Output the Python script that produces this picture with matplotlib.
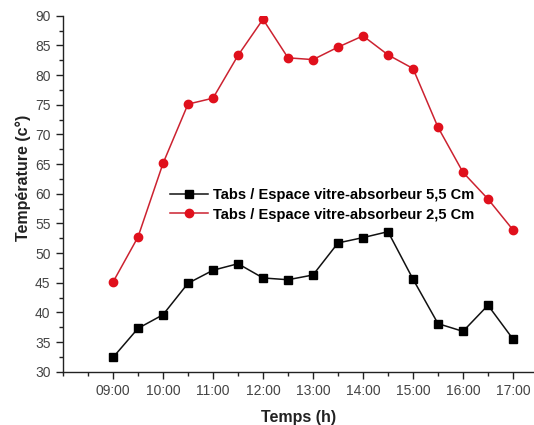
import matplotlib
matplotlib.use("Agg")
import matplotlib.pyplot as plt
from matplotlib.ticker import MultipleLocator

plt.rcParams['font.family'] = ['Liberation Sans', 'DejaVu Sans']

# time of day in hours, every 30 min from 09:00 to 17:00
hours = [9.0, 9.5, 10.0, 10.5, 11.0, 11.5, 12.0, 12.5, 13.0,
         13.5, 14.0, 14.5, 15.0, 15.5, 16.0, 16.5, 17.0]

t_55 = [32.4, 37.3, 39.6, 44.9, 47.1, 48.2, 45.8, 45.5, 46.3,
        51.7, 52.6, 53.6, 45.6, 38.1, 36.8, 41.2, 35.5]
t_25 = [45.1, 52.7, 65.1, 75.1, 76.1, 83.3, 89.4, 82.9, 82.6,
        84.7, 86.6, 83.4, 81.1, 71.2, 63.6, 59.1, 53.9]

label_55 = 'Tabs / Espace vitre-absorbeur 5,5 Cm'
label_25 = 'Tabs / Espace vitre-absorbeur 2,5 Cm'

hour_ticks = [9, 10, 11, 12, 13, 14, 15, 16, 17]
hour_labels = ['09:00', '10:00', '11:00', '12:00', '13:00',
               '14:00', '15:00', '16:00', '17:00']

fig = plt.figure(figsize=(5.34, 4.25), dpi=100)
ax = fig.add_axes([63/534, 1 - 371.7/425, 1 - 63/534, (371.7 - 15.7)/425])

ax.plot(hours, t_55, color='#111111', marker='s', markersize=5.2, linewidth=1.1,
        markerfacecolor='black', markeredgecolor='black', label=label_55)
ax.plot(hours, t_25, color='#cc2230', marker='o', markersize=6, linewidth=1.1,
        markerfacecolor='#e0101c', markeredgecolor='#e0101c', label=label_25)

ax.set_xlim(8.0, 17.42)
ax.set_ylim(30, 90)
ax.set_xticks(hour_ticks)
ax.set_xticklabels(hour_labels)
ax.xaxis.set_minor_locator(MultipleLocator(0.5))
ax.yaxis.set_major_locator(MultipleLocator(5))
ax.yaxis.set_minor_locator(MultipleLocator(2.5))

for s in ['top', 'right']:
    ax.spines[s].set_visible(False)
for s in ['left', 'bottom']:
    ax.spines[s].set_color('#222222')
    ax.spines[s].set_linewidth(1.0)

ax.tick_params(which='major', direction='out', length=5, width=1,
               colors='#222222', labelsize=10, labelcolor='#444444', pad=4)
ax.tick_params(which='minor', direction='out', length=3, width=1, colors='#222222')

ax.set_xlabel('Temps (h)', fontsize=11.5, fontweight='bold', color='#222222')
ax.set_ylabel('Température (c°)', fontsize=11.5, fontweight='bold', color='#222222')
ax.xaxis.set_label_coords(0.5, -0.108)
ax.yaxis.set_label_coords(-0.069, 0.545)

leg = ax.legend(loc='upper left', bbox_to_anchor=(170/534, 1 - 188/425),
                bbox_transform=fig.transFigure, frameon=False,
                prop={'size': 10.5, 'weight': 'bold'}, handlelength=2.6,
                handletextpad=0.35, labelspacing=0.38, borderpad=0,
                borderaxespad=0)

fig.savefig('out.png', dpi=100)
